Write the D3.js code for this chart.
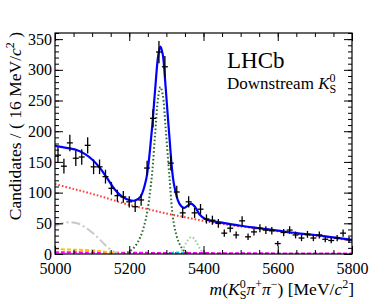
<!DOCTYPE html>
<html>
<head>
<meta charset="utf-8">
<script src="https://cdn.jsdelivr.net/npm/d3@7"></script>
<style>
  body { margin: 0; background: #fff; }
  svg { display: block; }
  text { font-family: "Liberation Serif", "DejaVu Serif", serif; fill: #000; }
</style>
</head>
<body>
<svg width="392" height="304"></svg>
<script>
// data: 16 MeV bins, 5000-5800
const binCenters = [5008, 5024, 5040, 5056, 5072, 5088, 5104, 5120, 5136, 5152,
                    5168, 5184, 5200, 5216, 5232, 5248, 5264, 5280, 5296, 5312,
                    5328, 5344, 5360, 5376, 5392, 5408, 5424, 5440, 5456, 5472,
                    5488, 5504, 5520, 5536, 5552, 5568, 5584, 5600, 5616, 5632,
                    5648, 5664, 5680, 5696, 5712, 5728, 5744, 5760, 5776, 5792];
const counts = [161, 143, 181, 156, 158, 177, 142, 142, 126, 107,
                95, 93, 85, 77, 88, 140, 221, 329, 305, 148,
                101, 67, 85, 67, 73, 57, 55, 50, 34, 42,
                31, 54, 28, 36, 42, 39, 38, 17, 35, 39,
                31, 26, 32, 26, 31, 24, 22, 26, 34, 23];

// fit components, [mass, candidates]
const totalFit = [[5000, 176], [5020, 174], [5040, 172], [5060, 169], [5080, 163],
                  [5100, 154], [5120, 141], [5140, 124], [5160, 106], [5180, 94],
                  [5200, 88], [5215, 87], [5230, 93], [5245, 120], [5260, 196],
                  [5270, 270], [5278, 323], [5284, 338], [5290, 326], [5298, 272],
                  [5308, 192], [5320, 115], [5335, 82], [5348, 75], [5358, 79],
                  [5367, 82], [5378, 76], [5390, 64], [5405, 57], [5420, 54],
                  [5450, 51], [5500, 46], [5550, 42], [5600, 38], [5650, 34],
                  [5700, 31], [5750, 27], [5800, 23]];
const combBkg = [[5000, 114], [5050, 106], [5100, 98], [5150, 89], [5200, 80],
                 [5250, 73], [5300, 66], [5350, 60], [5400, 54], [5450, 49],
                 [5500, 45], [5550, 41], [5600, 37], [5650, 33], [5700, 30],
                 [5750, 26], [5800, 22]];
const sigB0 = [[5185, 0], [5200, 4], [5215, 12], [5230, 28], [5245, 58], [5260, 122],
               [5270, 198], [5278, 256], [5284, 272], [5290, 260], [5298, 205],
               [5308, 128], [5320, 50], [5335, 17], [5350, 4], [5365, 0]];
const sigBs = [[5335, 0], [5345, 8], [5355, 20], [5368, 28], [5380, 20], [5392, 7], [5402, 0]];
const partReco = [[5000, 46], [5020, 50], [5040, 52], [5060, 50], [5080, 44], [5100, 35],
                  [5120, 24], [5140, 12], [5160, 3], [5170, 0]];
const bkgYellow = [[5000, 8], [5050, 7], [5100, 6], [5130, 4], [5150, 2], [5170, 0.5], [5190, 0]];
const bkgMagenta = [[5000, 3], [5200, 2], [5400, 1.5], [5600, 1], [5800, 1]];
const bkgCyan = [[5300, 0], [5315, 2.5], [5330, 3], [5345, 2], [5360, 0]];

const xMajor = [5000, 5200, 5400, 5600, 5800];
const yMajor = [0, 50, 100, 150, 200, 250, 300, 350];

const plotL = 55, plotR = 352, plotT = 33, plotB = 254;

const svg = d3.select("svg");

const x = d3.scaleLinear().domain([5000, 5800]).range([plotL, plotR]);
const y = d3.scaleLinear().domain([0, 360]).range([plotB, plotT]);

svg.append("clipPath").attr("id", "plot")
  .append("rect")
  .attr("x", plotL).attr("y", plotT)
  .attr("width", plotR - plotL).attr("height", plotB - plotT);

const line = d3.line()
  .x(d => x(d[0]))
  .y(d => y(d[1]))
  .curve(d3.curveCatmullRom.alpha(0.5));

const curves = svg.append("g").attr("clip-path", "url(#plot)").attr("fill", "none");

function drawCurve(data, color, width, dash) {
  curves.append("path")
    .datum(data)
    .attr("d", line)
    .attr("stroke", color)
    .attr("stroke-width", width)
    .attr("stroke-dasharray", dash);
}

drawCurve(bkgMagenta, "#ff00ff", 2, "4,2");
drawCurve(bkgYellow, "#ffc000", 2, "4,2");
drawCurve(bkgCyan, "#00d0e0", 1.5, "3,2");
drawCurve(partReco, "#c8c8c8", 2, "9,3,2,3");
drawCurve(sigBs, "#9fd09f", 2, "1.6,2.2");
drawCurve(sigB0, "#2f6b2f", 2, "1.6,2.2");
drawCurve(combBkg, "#ff3a3a", 2, "1.6,2");
drawCurve(totalFit, "#0000ff", 2.2, null);

// data points with Poisson errors
const pts = svg.append("g").attr("stroke", "#000").attr("stroke-width", 1.3);
binCenters.forEach((c, i) => {
  const n = counts[i], e = Math.sqrt(n);
  pts.append("line")
    .attr("x1", x(c)).attr("x2", x(c))
    .attr("y1", y(n - e)).attr("y2", y(n + e));
  pts.append("line")
    .attr("x1", x(c - 8)).attr("x2", x(c + 8))
    .attr("y1", y(n)).attr("y2", y(n));
});

// axes, ROOT style: inward ticks on all four sides
function styleAxis(g) {
  g.select(".domain").remove();
  g.selectAll("line").attr("stroke", "#000");
  g.selectAll("text").attr("font-size", "16px")
    .attr("font-family", '"Liberation Serif", serif');
}

const xMinor = d3.range(5000, 5801, 50);
const yMinor = d3.range(0, 361, 10);

svg.append("g").attr("transform", `translate(0,${plotB})`)
  .call(d3.axisBottom(x).tickValues(xMinor).tickSize(-4).tickFormat(""))
  .call(styleAxis);
svg.append("g").attr("transform", `translate(0,${plotB})`)
  .call(d3.axisBottom(x).tickValues(xMajor).tickSize(-8).tickPadding(5).tickFormat(d3.format("d")))
  .call(styleAxis)
  .selectAll("text").attr("dy", "0.95em");
svg.append("g").attr("transform", `translate(0,${plotT})`)
  .call(d3.axisTop(x).tickValues(xMinor).tickSize(-4).tickFormat(""))
  .call(styleAxis);
svg.append("g").attr("transform", `translate(0,${plotT})`)
  .call(d3.axisTop(x).tickValues(xMajor).tickSize(-8).tickFormat(""))
  .call(styleAxis);

svg.append("g").attr("transform", `translate(${plotL},0)`)
  .call(d3.axisLeft(y).tickValues(yMinor).tickSize(-4).tickFormat(""))
  .call(styleAxis);
svg.append("g").attr("transform", `translate(${plotL},0)`)
  .call(d3.axisLeft(y).tickValues(yMajor).tickSize(-8).tickPadding(3))
  .call(styleAxis);
svg.append("g").attr("transform", `translate(${plotR},0)`)
  .call(d3.axisRight(y).tickValues(yMinor).tickSize(-4).tickFormat(""))
  .call(styleAxis);
svg.append("g").attr("transform", `translate(${plotR},0)`)
  .call(d3.axisRight(y).tickValues(yMajor).tickSize(-8).tickFormat(""))
  .call(styleAxis);

svg.append("rect")
  .attr("x", plotL).attr("y", plotT)
  .attr("width", plotR - plotL).attr("height", plotB - plotT)
  .attr("fill", "none").attr("stroke", "#000").attr("stroke-width", 1.2);

// y title
const yt = svg.append("text")
  .attr("transform", `translate(21,${plotT - 1}) rotate(-90)`)
  .attr("text-anchor", "end")
  .attr("font-size", "17.5px");
yt.append("tspan").text("Candidates / ( 16 MeV/");
yt.append("tspan").attr("font-style", "italic").text("c");
yt.append("tspan").attr("font-size", "12px").attr("dy", -7).text("2");
yt.append("tspan").attr("dy", 7).text(" )");

// x title
const xt = svg.append("text")
  .attr("x", plotR + 2).attr("y", 295)
  .attr("text-anchor", "end")
  .attr("font-size", "17.5px");
xt.append("tspan").attr("font-style", "italic").text("m");
xt.append("tspan").text("(");
xt.append("tspan").attr("font-style", "italic").text("K");
xt.append("tspan").attr("font-size", "12px").attr("dy", -7).text("0");
xt.append("tspan").attr("font-size", "12px").attr("dx", -6).attr("dy", 11).text("S");
xt.append("tspan").attr("font-style", "italic").attr("dy", -4).text("π");
xt.append("tspan").attr("font-size", "12px").attr("dy", -7).text("+");
xt.append("tspan").attr("font-style", "italic").attr("dy", 7).text("π");
xt.append("tspan").attr("font-size", "12px").attr("dy", -7).text("−");
xt.append("tspan").attr("dy", 7).text(") [MeV/");
xt.append("tspan").attr("font-style", "italic").text("c");
xt.append("tspan").attr("font-size", "12px").attr("dy", -7).text("2");
xt.append("tspan").attr("dy", 7).text("]");

// labels
svg.append("text")
  .attr("x", 227).attr("y", 68)
  .attr("font-size", "23px")
  .text("LHCb");
const ds = svg.append("text")
  .attr("x", 227).attr("y", 89)
  .attr("font-size", "17px");
ds.append("tspan").text("Downstream ");
ds.append("tspan").attr("font-style", "italic").text("K");
ds.append("tspan").attr("font-size", "12px").attr("dy", -7).text("0");
ds.append("tspan").attr("font-size", "12px").attr("dx", -6).attr("dy", 11).text("S");
</script>
</body>
</html>
